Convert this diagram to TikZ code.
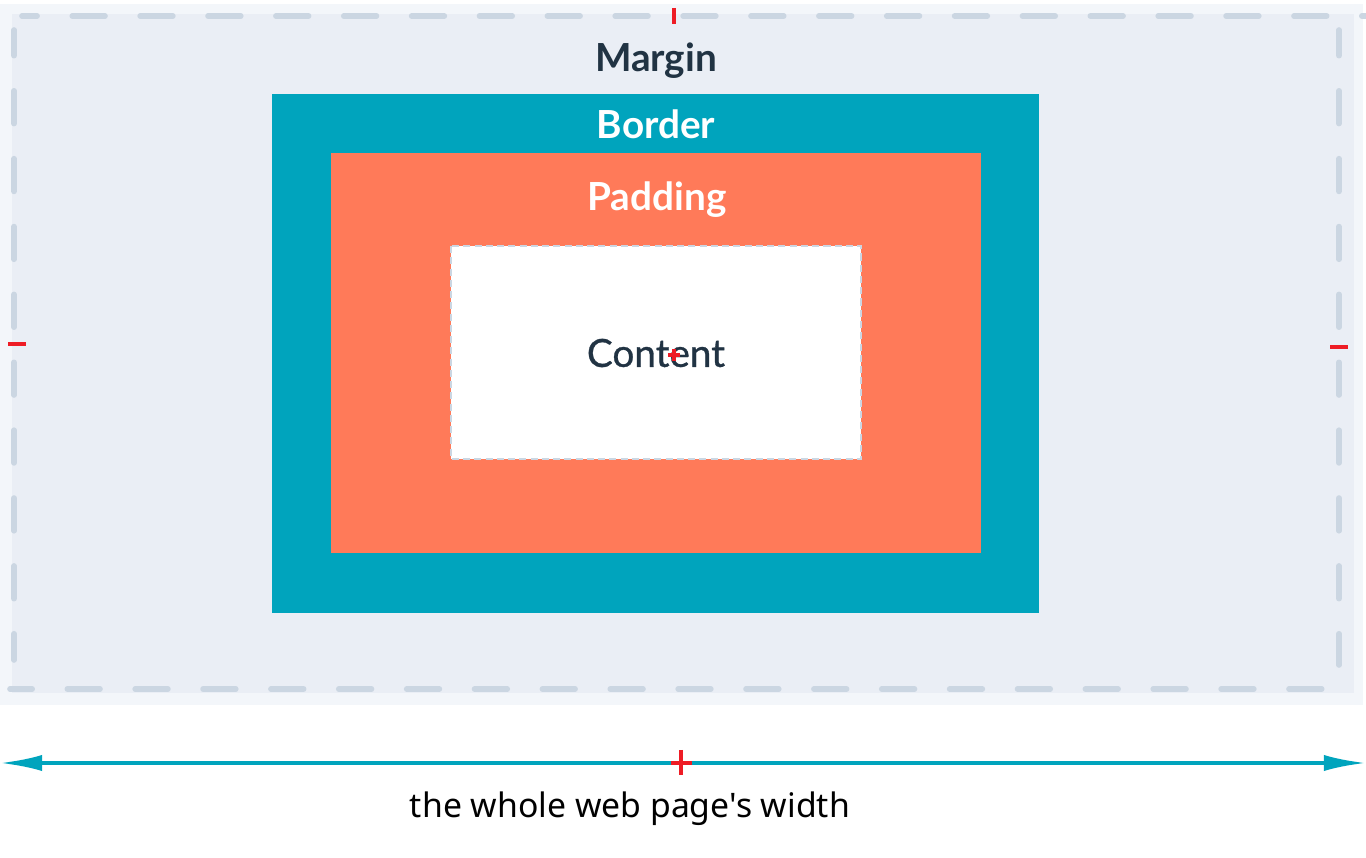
\documentclass[tikz,border=0pt]{standalone}
\usepackage{fontspec}
\usetikzlibrary{arrows.meta}
\setmainfont{Lato}
\newfontfamily\captionfont{Noto Sans}

\definecolor{pagebg}{HTML}{F3F6FA}
\definecolor{marginbg}{HTML}{EAEEF5}
\definecolor{dashgray}{HTML}{CBD6E2}
\definecolor{borderteal}{HTML}{00A4BD}
\definecolor{paddingorange}{HTML}{FF7A59}
\definecolor{labeldark}{HTML}{213343}
\definecolor{tickred}{HTML}{EE1C25}

\tikzset{
  edgedash/.style={dashgray,line width=1.6pt,line cap=round,dash pattern=on 9.3pt off 10pt},
  boxlabel/.style={font=\bfseries\fontsize{11}{13}\selectfont,inner sep=0pt},
  redtick/.style={tickred,line width=1.1pt},
}

\begin{document}
\begin{tikzpicture}[x=0.01cm,y=-0.01cm]
\useasboundingbox (0,0) rectangle (1366,858);
% page and margin area
\fill[pagebg] (0,4) rectangle (1363,705);
\fill[white] (24,0) rectangle (198,4);
\fill[marginbg] (12,14) rectangle (1354,693);
\draw[edgedash,dash phase=5pt] (22,16) -- (1366,16);
\draw[edgedash,dash phase=3pt] (10,689) -- (1340,689);
\draw[edgedash,dash phase=2pt] (14,30) -- (14,660);
\draw[edgedash,dash phase=2pt] (1339,30) -- (1339,665);
% border, padding, content
\fill[borderteal] (272,94) rectangle (1039,613);
\fill[paddingorange] (331,153) rectangle (981,553);
\fill[white] (451,246) rectangle (861,459);
\draw[dashgray,line width=0.45pt,dash pattern=on 2pt off 1.2pt] (451,246) rectangle (861,459);
\node[boxlabel,text=labeldark] (margin) at (656,61) {Margin};
\node[boxlabel,text=white] (border) at (656,124) {Border};
\node[boxlabel,text=white] (padding) at (657,200) {Padding};
\node[font=\addfontfeature{FakeBold=0.8}\fontsize{11}{13}\selectfont,text=labeldark,inner sep=0pt] (content) at (656,353) {Content};
% width arrow
\coordinate (pageleft) at (0,763);
\coordinate (pageright) at (1366,763);
\draw[borderteal,line width=1.1pt,{Latex[length=12pt,width=4.6pt]}-{Latex[length=12pt,width=4.6pt]}] (pageleft) -- (pageright);
\node[font=\captionfont\fontsize{9.6}{11}\selectfont,inner sep=0pt] (caption) at (630,809) {the whole web page's width};
% red centre marks
\draw[redtick] (674,8) -- (674,24);
\draw[redtick] (8,344) -- (26,344);
\draw[redtick] (1330,347) -- (1348,347);
\draw[redtick,line width=0.9pt] (674,349) -- (674,361) (668,355) -- (680,355);
\draw[redtick] (681,750) -- (681,775) (671,763) -- (692,763);
\end{tikzpicture}
\end{document}
